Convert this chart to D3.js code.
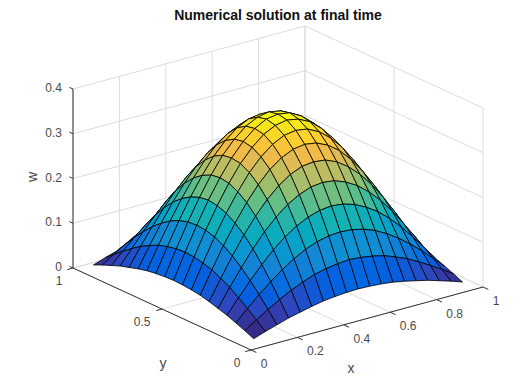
<!DOCTYPE html>
<html lang="en">
	<head>
		<meta charset="utf-8">
		<title>Numerical solution at final time</title>
		<script src="https://d3js.org/d3.v7.min.js"></script>
		<style type="text/css">
			body { margin: 0; background-color: #ffffff; }
			text { font-family: "Liberation Sans", Arial, sans-serif; fill: #4a4a4a; }
		</style>
	</head>
	<body>
		<script type="text/javascript">

			//Width and height
			var w = 520;
			var h = 389;

			// Mesh positions
			var gridX = [0.05, 0.10, 0.15, 0.20, 0.25, 0.30, 0.35, 0.40, 0.45, 0.50, 0.55, 0.60, 0.65, 0.70, 0.75, 0.80, 0.85, 0.90, 0.95];
			var gridY = [0.05, 0.10, 0.15, 0.20, 0.25, 0.30, 0.35, 0.40, 0.45, 0.50, 0.55, 0.60, 0.65, 0.70, 0.75, 0.80, 0.85, 0.90, 0.95];

			// w values, one row per gridY entry
			var gridW = [
				[.009, .018, .026, .034, .040, .046, .051, .054, .056, .057, .056, .054, .051, .046, .040, .034, .026, .018, .009],
				[.018, .035, .051, .066, .080, .091, .101, .107, .111, .113, .111, .107, .101, .091, .080, .066, .051, .035, .018],
				[.026, .051, .075, .097, .117, .134, .148, .158, .164, .166, .164, .158, .148, .134, .117, .097, .075, .051, .026],
				[.034, .066, .097, .126, .152, .174, .191, .204, .212, .215, .212, .204, .191, .174, .152, .126, .097, .066, .034],
				[.040, .080, .117, .152, .183, .209, .230, .245, .255, .258, .255, .245, .230, .209, .183, .152, .117, .080, .040],
				[.046, .091, .134, .174, .209, .239, .263, .281, .292, .295, .292, .281, .263, .239, .209, .174, .134, .091, .046],
				[.051, .101, .148, .191, .230, .263, .290, .309, .321, .325, .321, .309, .290, .263, .230, .191, .148, .101, .051],
				[.054, .107, .158, .204, .245, .281, .309, .330, .343, .347, .343, .330, .309, .281, .245, .204, .158, .107, .054],
				[.056, .111, .164, .212, .255, .292, .321, .343, .356, .361, .356, .343, .321, .292, .255, .212, .164, .111, .056],
				[.057, .113, .166, .215, .258, .295, .325, .347, .361, .365, .361, .347, .325, .295, .258, .215, .166, .113, .057],
				[.056, .111, .164, .212, .255, .292, .321, .343, .356, .361, .356, .343, .321, .292, .255, .212, .164, .111, .056],
				[.054, .107, .158, .204, .245, .281, .309, .330, .343, .347, .343, .330, .309, .281, .245, .204, .158, .107, .054],
				[.051, .101, .148, .191, .230, .263, .290, .309, .321, .325, .321, .309, .290, .263, .230, .191, .148, .101, .051],
				[.046, .091, .134, .174, .209, .239, .263, .281, .292, .295, .292, .281, .263, .239, .209, .174, .134, .091, .046],
				[.040, .080, .117, .152, .183, .209, .230, .245, .255, .258, .255, .245, .230, .209, .183, .152, .117, .080, .040],
				[.034, .066, .097, .126, .152, .174, .191, .204, .212, .215, .212, .204, .191, .174, .152, .126, .097, .066, .034],
				[.026, .051, .075, .097, .117, .134, .148, .158, .164, .166, .164, .158, .148, .134, .117, .097, .075, .051, .026],
				[.018, .035, .051, .066, .080, .091, .101, .107, .111, .113, .111, .107, .101, .091, .080, .066, .051, .035, .018],
				[.009, .018, .026, .034, .040, .046, .051, .054, .056, .057, .056, .054, .051, .046, .040, .034, .026, .018, .009]
			];

			var xTicks = [0, 0.2, 0.4, 0.6, 0.8, 1];
			var yTicks = [0, 0.5, 1];
			var zTicks = [0, 0.1, 0.2, 0.3, 0.4];

			// Parula colour stops
			var parula = ["#352a87", "#3243ba", "#0363e1", "#0c75dc", "#1485d4", "#0998d1", "#06a7c6", "#15b1b4", "#38b99e", "#65be86", "#92bf73", "#b7bd64", "#d9ba56", "#f8bb44", "#fcce2e", "#f5e41d", "#f9fb0e"];

			// Fixed view: each data axis moves the point along its own screen direction
			var xToSx = d3.scaleLinear().domain([0, 1]).range([0, 232]);
			var xToSy = d3.scaleLinear().domain([0, 1]).range([0, -63]);
			var yToSx = d3.scaleLinear().domain([0, 1]).range([0, -178]);
			var yToSy = d3.scaleLinear().domain([0, 1]).range([0, -82]);
			var zToSy = d3.scaleLinear().domain([0, 0.4]).range([0, -179]);

			var originX = 251;
			var originY = 350;

			function project(x, y, z) {
				return [originX + xToSx(x) + yToSx(y), originY + xToSy(x) + yToSy(y) + zToSy(z)];
			}

			var color = d3.scaleLinear()
				.domain(d3.range(parula.length).map(function(i) {
					return d3.min(gridW, function(r) { return d3.min(r); }) +
						i / (parula.length - 1) * (d3.max(gridW, function(r) { return d3.max(r); }) - d3.min(gridW, function(r) { return d3.min(r); }));
				}))
				.range(parula);

			var line3d = d3.line()
				.x(function(d) { return project(d[0], d[1], d[2])[0]; })
				.y(function(d) { return project(d[0], d[1], d[2])[1]; });

			//Create SVG element
			var svg = d3.select("body")
				.append("svg")
				.attr("width", w)
				.attr("height", h)
				.style("display", "block");

			// Back walls and floor grid
			var gridColor = "#dcdcdc";
			var grid = svg.append("g")
				.attr("fill", "none")
				.attr("stroke", gridColor)
				.attr("stroke-width", 1);

			function seg(g, a, b, stroke, width) {
				g.append("path")
					.attr("d", line3d([a, b]))
					.attr("fill", "none")
					.attr("stroke", stroke)
					.attr("stroke-width", width);
			}

			xTicks.forEach(function(t) {
				seg(grid, [t, 1, 0], [t, 1, 0.4], gridColor, 1);
				seg(grid, [t, 0, 0], [t, 1, 0], gridColor, 1);
			});
			yTicks.forEach(function(t) {
				seg(grid, [1, t, 0], [1, t, 0.4], gridColor, 1);
				seg(grid, [0, t, 0], [1, t, 0], gridColor, 1);
			});
			zTicks.forEach(function(t) {
				seg(grid, [0, 1, t], [1, 1, t], gridColor, 1);
				seg(grid, [1, 1, t], [1, 0, t], gridColor, 1);
			});

			// Axis lines and ticks
			var axisColor = "#333333";
			var axes = svg.append("g");
			seg(axes, [0, 0, 0], [1, 0, 0], axisColor, 1);
			seg(axes, [0, 0, 0], [0, 1, 0], axisColor, 1);
			seg(axes, [0, 1, 0], [0, 1, 0.4], axisColor, 1);

			xTicks.forEach(function(t) { seg(axes, [t, 0, 0], [t, -0.03, 0], axisColor, 1); });
			yTicks.forEach(function(t) { seg(axes, [0, t, 0], [-0.025, t, 0], axisColor, 1); });
			zTicks.forEach(function(t) { seg(axes, [0, 1, t], [0, 1.02, t], axisColor, 1); });

			// Surface faces, far corner first so nearer ones paint over
			var faces = svg.append("g");
			for (var j = gridY.length - 2; j >= 0; j--) {
				for (var i = gridX.length - 2; i >= 0; i--) {
					faces.append("path")
						.attr("d", line3d([
							[gridX[i], gridY[j], gridW[j][i]],
							[gridX[i + 1], gridY[j], gridW[j][i + 1]],
							[gridX[i + 1], gridY[j + 1], gridW[j + 1][i + 1]],
							[gridX[i], gridY[j + 1], gridW[j + 1][i]]
						]) + "Z")
						.attr("fill", color(gridW[j][i]))
						.attr("stroke", "#000")
						.attr("stroke-width", 0.8)
						.attr("stroke-linejoin", "round");
				}
			}

			// Tick labels
			function label(text, p, dx, dy, size) {
				return svg.append("text")
					.attr("x", p[0] + dx)
					.attr("y", p[1] + dy)
					.attr("text-anchor", "middle")
					.attr("dominant-baseline", "central")
					.attr("font-size", size + "px")
					.text(text);
			}

			xTicks.forEach(function(t) { label(t, project(t, 0, 0), t == 0 || t == 1 ? 13 : 18, 14, 12); });
			yTicks.forEach(function(t) { label(t, project(0, t, 0), t == 0.5 ? -20 : -14, 12.5, 12); });
			zTicks.forEach(function(t) {
				svg.append("text")
					.attr("x", project(0, 1, t)[0] - 11)
					.attr("y", project(0, 1, t)[1] - 1)
					.attr("text-anchor", "end")
					.attr("dominant-baseline", "central")
					.attr("font-size", "12px")
					.text(t);
			});

			label("x", [351, 368], 0, 0, 14);
			label("y", [163, 363], 0, 0, 14);
			svg.append("text")
				.attr("transform", "translate(32,177) rotate(-90)")
				.attr("text-anchor", "middle")
				.attr("dominant-baseline", "central")
				.attr("font-size", "14px")
				.text("w");

			svg.append("text")
				.attr("x", 278)
				.attr("y", 15)
				.attr("text-anchor", "middle")
				.attr("dominant-baseline", "central")
				.attr("font-size", "14px")
				.attr("font-weight", "bold")
				.style("fill", "#111")
				.text("Numerical solution at final time");
		</script>
	</body>
</html>
